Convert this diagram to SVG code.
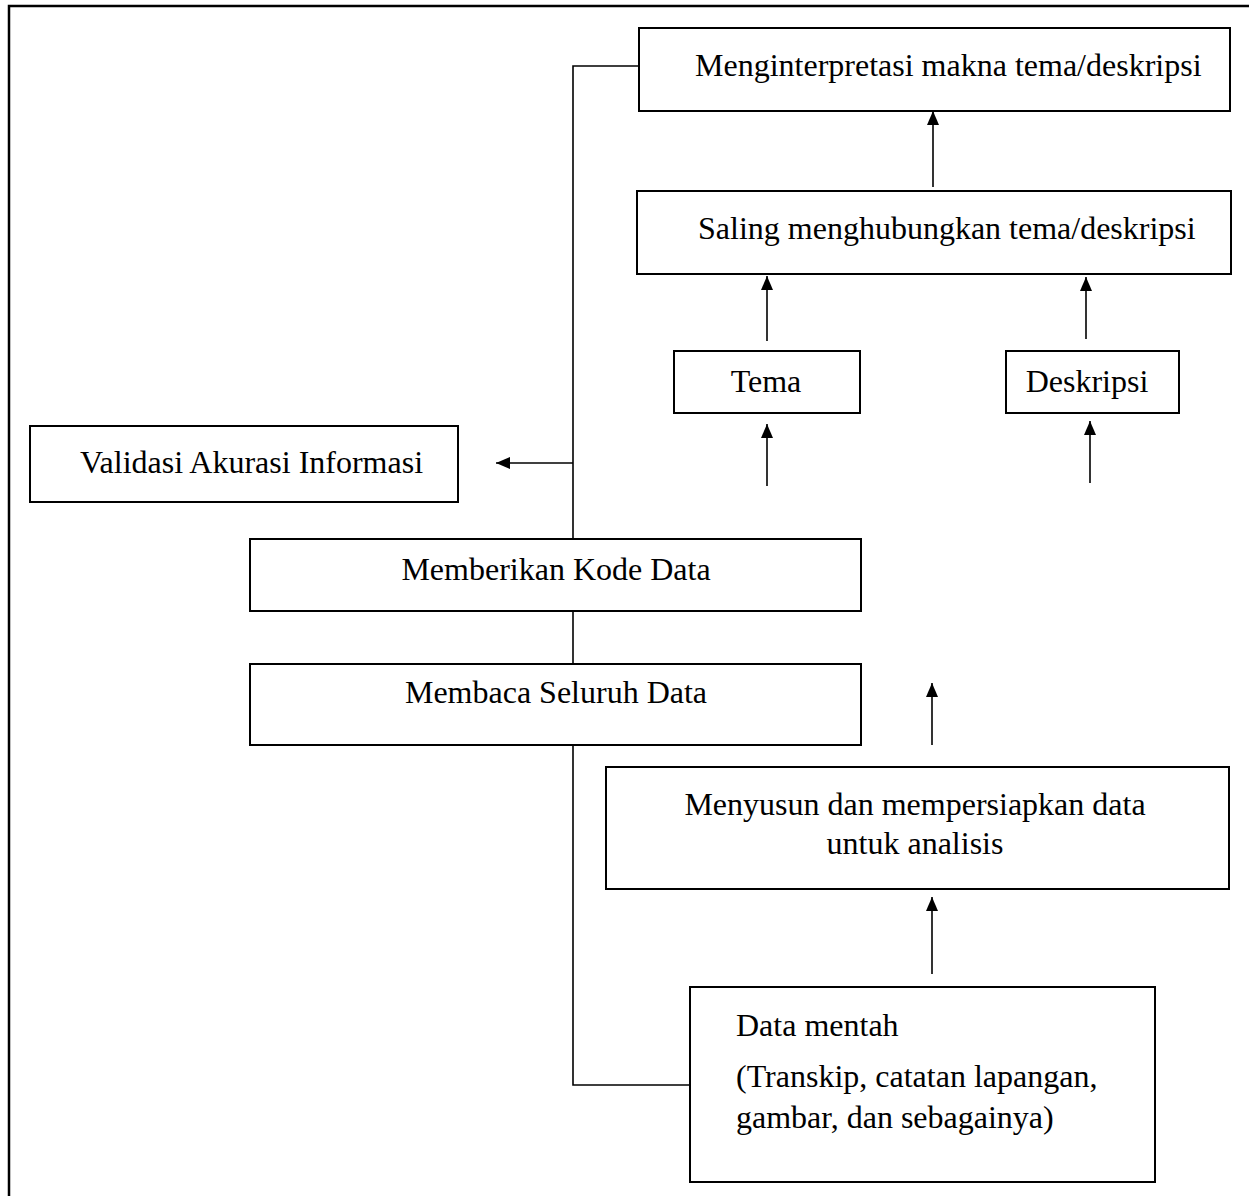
<svg xmlns="http://www.w3.org/2000/svg" width="1249" height="1196" viewBox="0 0 1249 1196">
<defs>
<style>
.box{fill:#fff;stroke:#000;stroke-width:2}
.t{font-family:"Liberation Serif","Times New Roman",serif;font-size:32px;fill:#000}
.c{text-anchor:middle}
.ln{fill:none;stroke:#000;stroke-width:1.6}
.ar{fill:none;stroke:#000;stroke-width:1.6;marker-end:url(#ah)}
</style>
<marker id="ah" markerUnits="userSpaceOnUse" markerWidth="14" markerHeight="12" viewBox="0 0 14 12" refX="14" refY="6" orient="auto">
<path d="M0,0 L14,6 L0,12 z" fill="#000"/>
</marker>
</defs>
<rect x="0" y="0" width="1249" height="1196" fill="#fff"/>
<path d="M9,1200 V6 H1252" fill="none" stroke="#000" stroke-width="2.5"/>

<g id="connectors">
<polyline class="ln" points="639,66 573,66 573,539"/>
<line class="ln" x1="573" y1="611" x2="573" y2="664"/>
<polyline class="ln" points="573,745 573,1085 690,1085"/>
<line class="ar" x1="573" y1="463" x2="496" y2="463"/>
<line class="ar" x1="933" y1="187" x2="933" y2="111"/>
<line class="ar" x1="767" y1="341" x2="767" y2="276"/>
<line class="ar" x1="1086" y1="339" x2="1086" y2="277"/>
<line class="ar" x1="767" y1="486" x2="767" y2="424"/>
<line class="ar" x1="1090" y1="483" x2="1090" y2="421"/>
<line class="ar" x1="932" y1="745" x2="932" y2="683"/>
<line class="ar" x1="932" y1="974" x2="932" y2="897"/>
</g>

<g id="n-interpretasi">
<rect class="box" x="639" y="28" width="591" height="83"/>
<text class="t" x="695" y="76">Menginterpretasi makna tema/deskripsi</text>
</g>
<g id="n-saling">
<rect class="box" x="637" y="191" width="594" height="83"/>
<text class="t" x="698" y="239">Saling menghubungkan tema/deskripsi</text>
</g>
<g id="n-tema">
<rect class="box" x="674" y="351" width="186" height="62"/>
<text class="t c" x="766" y="392">Tema</text>
</g>
<g id="n-deskripsi">
<rect class="box" x="1006" y="351" width="173" height="62"/>
<text class="t c" x="1087" y="392">Deskripsi</text>
</g>
<g id="n-validasi">
<rect class="box" x="30" y="426" width="428" height="76"/>
<text class="t" x="80" y="473">Validasi Akurasi Informasi</text>
</g>
<g id="n-kode">
<rect class="box" x="250" y="539" width="611" height="72"/>
<text class="t c" x="556" y="580">Memberikan Kode Data</text>
</g>
<g id="n-membaca">
<rect class="box" x="250" y="664" width="611" height="81"/>
<text class="t c" x="556" y="703">Membaca Seluruh Data</text>
</g>
<g id="n-menyusun">
<rect class="box" x="606" y="767" width="623" height="122"/>
<text class="t c" x="915" y="815">Menyusun dan mempersiapkan data</text>
<text class="t c" x="915" y="854">untuk analisis</text>
</g>
<g id="n-mentah">
<rect class="box" x="690" y="987" width="465" height="195"/>
<text class="t" x="736" y="1036">Data mentah</text>
<text class="t" x="736" y="1087">(Transkip, catatan lapangan,</text>
<text class="t" x="736" y="1128">gambar, dan sebagainya)</text>
</g>
</svg>
